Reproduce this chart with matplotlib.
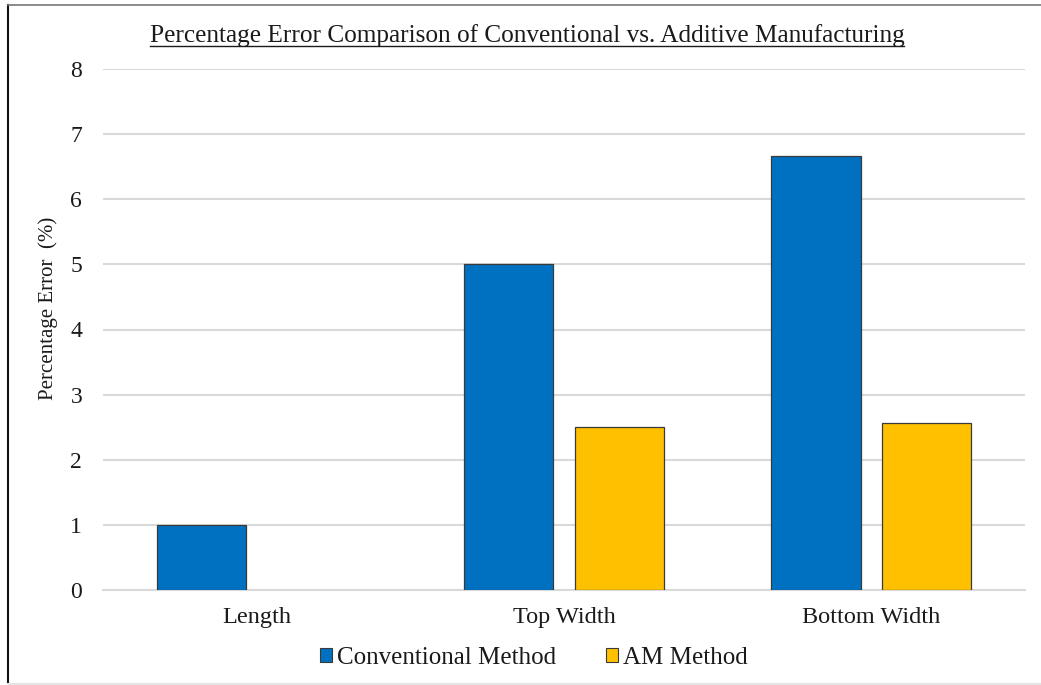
import numpy as np
import matplotlib
matplotlib.use("Agg")
import matplotlib.pyplot as plt
from matplotlib.lines import Line2D
from matplotlib.patches import Patch

categories = ["Length", "Top Width", "Bottom Width"]
conventional = [1.0, 5.0, 6.67]
am_method = [0.0, 2.5, 2.56]
series_names = ["Conventional Method", "AM Method"]
y_ticks = [0, 1, 2, 3, 4, 5, 6, 7, 8]

BLUE = "#0070C0"
GOLD = "#FFC000"
EDGE = "#3a3a3a"
GRID = "#d9d9d9"
TXT = "#1a1a1a"

plt.rcParams["font.family"] = ["Liberation Serif", "DejaVu Serif"]

W, H = 1041, 685
fig = plt.figure(figsize=(W / 100, H / 100), dpi=100)
ax = fig.add_axes([103 / W, 1 - 590 / H, (1025 - 103) / W, (590 - 69) / H])

x = np.arange(len(categories))
bw = 0.29
off = 0.18
ax.bar(x - off, conventional, bw, color=BLUE, edgecolor=EDGE, linewidth=0.9, zorder=3)
am_vals = np.array(am_method)
mask = am_vals > 0
ax.bar(x[mask] + off, am_vals[mask], bw, color=GOLD, edgecolor=EDGE, linewidth=0.9, zorder=3)

ax.set_xlim(-0.5, len(categories) - 0.5)
ax.set_ylim(0, 8)
ax.set_yticks(y_ticks)
ax.set_xticks(x)
ax.set_xticklabels(categories, fontsize=17.5, color=TXT)
ax.tick_params(axis="y", labelsize=17, labelcolor=TXT, length=0, pad=15)
ax.tick_params(axis="x", length=0, pad=12)
ax.yaxis.grid(True, color=GRID, linewidth=1.5, zorder=0)
for s in ["top", "right", "left"]:
    ax.spines[s].set_visible(False)
ax.spines["bottom"].set_color(GRID)
ax.spines["bottom"].set_linewidth(1.5)

ax.set_ylabel("Percentage Error  (%)", fontsize=15, color=TXT)
ax.yaxis.set_label_coords(-0.049, 0.541)

# title with underline
title = fig.text(527 / W, 1 - 36 / H, "Percentage Error Comparison of Conventional vs. Additive Manufacturing",
                 ha="center", va="center", fontsize=18.2, color=TXT)

handles = [Patch(facecolor=BLUE, edgecolor=EDGE, linewidth=0.8),
           Patch(facecolor=GOLD, edgecolor=EDGE, linewidth=0.8)]
fig.legend(handles, series_names, loc="center", bbox_to_anchor=(534 / W, 1 - 658 / H),
           ncol=2, frameon=False, fontsize=18, handlelength=0.48, handleheight=0.48,
           handletextpad=0.2, columnspacing=2.0, labelcolor=TXT)

# outer frame
fig.add_artist(Line2D([7.5 / W, 7.5 / W], [0, 1 - 5 / H], transform=fig.transFigure, color="#111111", linewidth=1.5))
fig.add_artist(Line2D([7.5 / W, 1], [1 - 5 / H, 1 - 5 / H], transform=fig.transFigure, color="#777777", linewidth=1.2))
fig.add_artist(Line2D([7.5 / W, 1], [1 - 683.5 / H, 1 - 683.5 / H], transform=fig.transFigure, color="#e4e4e4", linewidth=1.5))

fig.canvas.draw()
bb = title.get_window_extent(fig.canvas.get_renderer())
uy = (bb.y0 + 1) / H
fig.add_artist(Line2D([bb.x0 / W, bb.x1 / W], [uy, uy], transform=fig.transFigure, color=TXT, linewidth=1.0))

fig.savefig("out.png", dpi=100, facecolor="white")
